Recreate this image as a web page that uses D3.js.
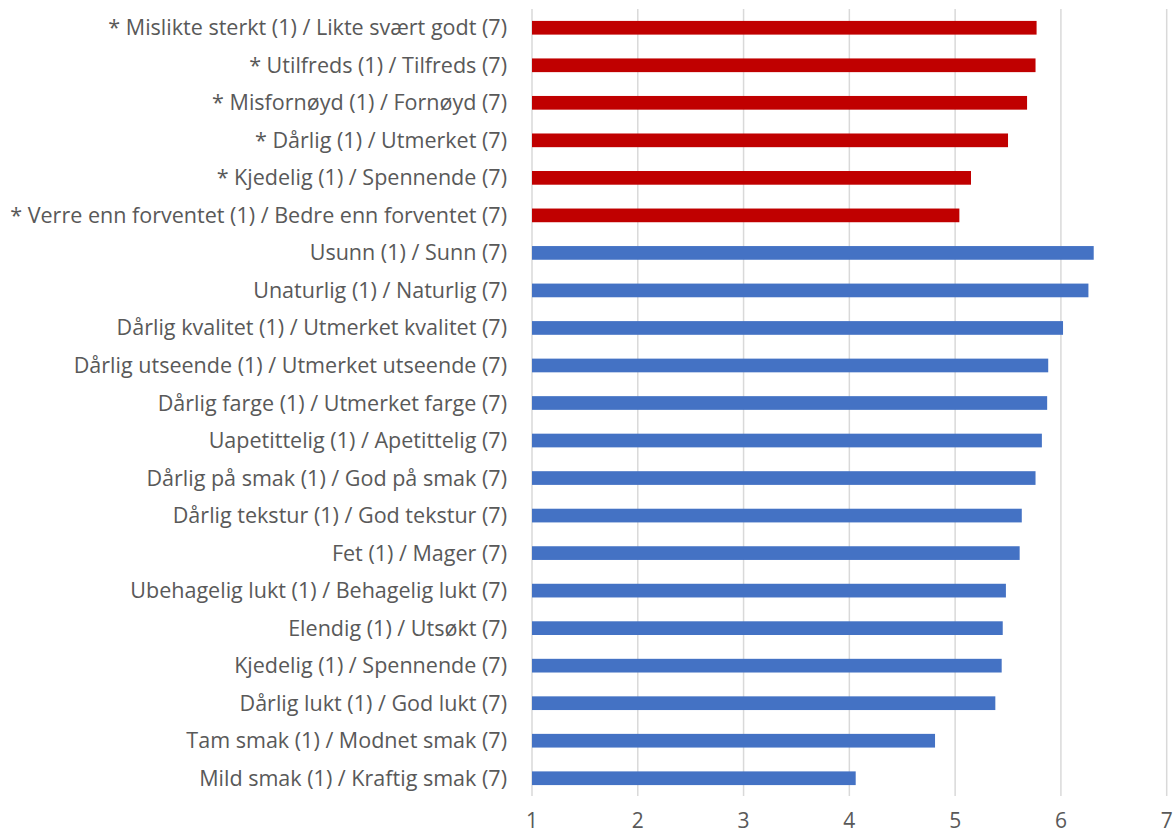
<!DOCTYPE html>
<html>
<head>
<meta charset="utf-8">
<script src="https://cdn.jsdelivr.net/npm/d3@7"></script>
<style>
  html, body { margin: 0; padding: 0; background: #fff; }
  svg text { font-family: "Open Sans", "Noto Sans", sans-serif; fill: #595959; }
</style>
</head>
<body>
<svg id="chart" width="1173" height="836"></svg>
<script>
const categories = [
  "* Mislikte sterkt (1) / Likte svært godt (7)",
  "* Utilfreds (1) / Tilfreds (7)",
  "* Misfornøyd (1) / Fornøyd (7)",
  "* Dårlig (1) / Utmerket (7)",
  "* Kjedelig (1) / Spennende (7)",
  "* Verre enn forventet (1) / Bedre enn forventet (7)",
  "Usunn (1) / Sunn (7)",
  "Unaturlig (1) / Naturlig (7)",
  "Dårlig kvalitet (1) / Utmerket kvalitet (7)",
  "Dårlig utseende (1) / Utmerket utseende (7)",
  "Dårlig farge (1) / Utmerket farge (7)",
  "Uapetittelig (1) / Apetittelig (7)",
  "Dårlig på smak (1) / God på smak (7)",
  "Dårlig tekstur (1) / God tekstur (7)",
  "Fet (1) / Mager (7)",
  "Ubehagelig lukt (1) / Behagelig lukt (7)",
  "Elendig (1) / Utsøkt (7)",
  "Kjedelig (1) / Spennende (7)",
  "Dårlig lukt (1) / God lukt (7)",
  "Tam smak (1) / Modnet smak (7)",
  "Mild smak (1) / Kraftig smak (7)"
];
const values = [5.77, 5.76, 5.68, 5.50, 5.15, 5.04,
                6.31, 6.26, 6.02, 5.88, 5.87, 5.82, 5.76, 5.63, 5.61, 5.48, 5.45, 5.44, 5.38, 4.81, 4.06];
const groups = ["overall","overall","overall","overall","overall","overall",
                "attr","attr","attr","attr","attr","attr","attr","attr","attr","attr","attr","attr","attr","attr","attr"];
const xTicks = [1, 2, 3, 4, 5, 6, 7];
const colors = { overall: "#C00000", attr: "#4472C4" };

const svg = d3.select("#chart");
const plotLeft = 532, plotRight = 1166.7, plotTop = 9, plotBottom = 797;

const x = d3.scaleLinear().domain([1, 7]).range([plotLeft, plotRight]);
const y = d3.scaleBand().domain(categories).range([plotTop, plotBottom]).paddingInner(0.635).paddingOuter(0.3175);

// gridlines
svg.append("g").selectAll("line").data(xTicks).join("line")
  .attr("x1", d => x(d)).attr("x2", d => x(d))
  .attr("y1", plotTop).attr("y2", 796)
  .attr("stroke", "#D9D9D9").attr("stroke-width", 1.5);

// bars
const data = categories.map((c, i) => ({ c, v: values[i], g: groups[i] }));
svg.append("g").selectAll("rect").data(data).join("rect")
  .attr("x", x(1))
  .attr("y", d => y(d.c))
  .attr("width", d => x(d.v) - x(1))
  .attr("height", y.bandwidth())
  .attr("fill", d => colors[d.g]);

// category labels
const labs = svg.append("g").selectAll("text").data(categories).join("text")
  .attr("x", 507)
  .attr("y", d => y(d) + y.bandwidth() / 2)
  .attr("dy", "0.35em")
  .attr("text-anchor", "end")
  .style("font-size", "17px")
  .text(d => d);

// fit font size so the longest label spans target width
const longest = labs.filter((d, i) => i === 5).node();
const w = longest.getComputedTextLength();
const fs = 17 * 497 / w;
labs.style("font-size", fs + "px");

// x axis tick labels
svg.append("g").selectAll("text").data(xTicks).join("text")
  .attr("x", d => x(d))
  .attr("y", 821)
  .attr("dy", "0.35em")
  .attr("text-anchor", "middle")
  .style("font-size", "21px")
  .text(d => d);
</script>
</body>
</html>
